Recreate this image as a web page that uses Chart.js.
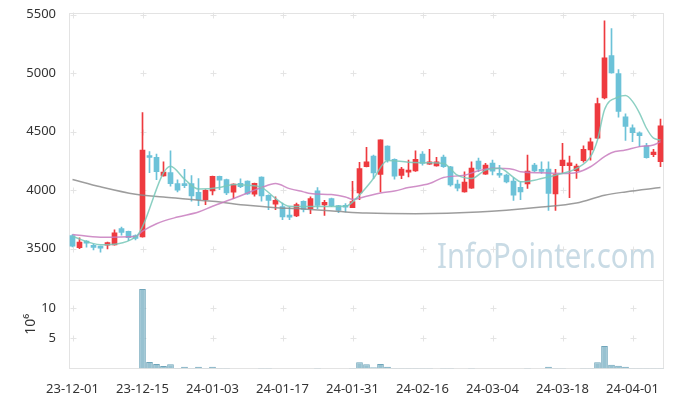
<!DOCTYPE html>
<html>
<head>
<meta charset="utf-8">
<script src="https://cdn.jsdelivr.net/npm/chart.js@4.4.1/dist/chart.umd.min.js"></script>
<style>
  html, body { margin: 0; padding: 0; background: #fff; }
  #wrap { width: 673px; height: 398px; }
</style>
</head>
<body>
<div id="wrap"><canvas id="stockChart"></canvas></div>
<script>
// trading days
var dates = [
  "23-12-01","23-12-04","23-12-05","23-12-06","23-12-07","23-12-08","23-12-11","23-12-12","23-12-13","23-12-14",
  "23-12-15","23-12-18","23-12-19","23-12-20","23-12-21","23-12-22","23-12-26","23-12-27","23-12-28","24-01-02",
  "24-01-03","24-01-04","24-01-05","24-01-08","24-01-09","24-01-10","24-01-11","24-01-12","24-01-15","24-01-16",
  "24-01-17","24-01-18","24-01-19","24-01-22","24-01-23","24-01-24","24-01-25","24-01-26","24-01-29","24-01-30",
  "24-01-31","24-02-01","24-02-02","24-02-05","24-02-06","24-02-07","24-02-08","24-02-13","24-02-14","24-02-15",
  "24-02-16","24-02-19","24-02-20","24-02-21","24-02-22","24-02-23","24-02-26","24-02-27","24-02-28","24-02-29",
  "24-03-04","24-03-05","24-03-06","24-03-07","24-03-08","24-03-11","24-03-12","24-03-13","24-03-14","24-03-15",
  "24-03-18","24-03-19","24-03-20","24-03-21","24-03-22","24-03-25","24-03-26","24-03-27","24-03-28","24-03-29",
  "24-04-01","24-04-02","24-04-03","24-04-04","24-04-05"
];

var open = [
  3613,3510,3555,3527,3520,3530,3533,3673,3648,3613,
  3600,4285,4281,4123,4152,4057,4045,4057,3983,3920,
  3994,4120,4092,3983,4060,4078,3966,4112,3957,3880,
  3860,3775,3780,3906,3843,3994,3874,3929,3868,3862,
  3851,3977,4201,4293,4135,4378,4264,4126,4155,4166,
  4310,4224,4209,4284,4201,4052,3986,4017,4250,4138,
  4232,4132,4129,4078,4026,4055,4215,4168,4181,3969,
  4210,4210,4167,4253,4344,4445,4789,5152,4998,4628,
  4533,4490,4379,4304,4244
];
var high = [
  3620,3593,3570,3540,3522,3556,3662,3685,3650,3618,
  4665,4330,4310,4244,4338,4090,4178,4126,4100,4005,
  4122,4122,4095,4055,4098,4080,4062,4115,3960,3943,
  3891,3857,3891,3910,3943,4023,3914,3932,3870,3885,
  4077,4238,4367,4301,4432,4380,4268,4195,4258,4338,
  4330,4350,4281,4301,4205,4086,4158,4244,4275,4230,
  4258,4212,4138,4109,4072,4301,4230,4244,4244,4178,
  4402,4293,4224,4379,4445,4789,5448,5382,5032,4654,
  4559,4499,4402,4350,4608
];
var low = [
  3515,3500,3513,3490,3470,3499,3530,3615,3570,3575,
  3598,4150,4090,4120,4035,3985,4023,3906,3868,3877,
  3960,4006,3963,3929,4023,3965,3949,3906,3834,3834,
  3748,3748,3775,3814,3800,3843,3785,3860,3808,3814,
  3850,3920,4200,4100,3986,4240,4095,4100,4115,4160,
  4215,4220,4205,4195,4035,3994,3983,4015,4158,4135,
  4130,4109,4063,3914,3920,4015,4158,4144,3828,3828,
  4144,3937,4101,4240,4258,4440,4780,5000,4625,4425,
  4416,4373,4275,4287,4201
];
var close = [
  3522,3556,3548,3512,3505,3553,3636,3640,3595,3588,
  4344,4280,4158,4155,4057,4000,4040,3951,3920,4000,
  4120,4086,3977,4052,4030,3969,4060,3951,3914,3914,
  3771,3770,3877,3837,3929,3871,3897,3868,3828,3855,
  3903,4186,4244,4149,4430,4258,4120,4181,4172,4264,
  4229,4244,4244,4201,4046,4017,4069,4189,4181,4215,
  4164,4128,4072,3957,3986,4164,4166,4162,3972,4135,
  4258,4235,4207,4350,4413,4740,5132,5003,4674,4545,
  4493,4467,4278,4327,4551
];

// volume in millions
var volume = [
  null,null,null,null,null,null,null,null,null,null,
  13.1,1.07,0.75,0.43,0.72,0.1,0.27,0.1,0.27,0.1,
  0.27,0.1,0.1,null,null,null,null,0.08,0.08,null,
  null,null,null,null,null,0.08,null,null,null,null,
  0.08,1.05,0.72,0.22,0.75,0.27,0.08,0.08,0.08,0.08,
  0.08,0.08,null,0.08,0.08,null,null,0.08,null,null,
  null,null,null,null,null,0.08,null,null,0.27,0.08,
  0.08,null,null,0.08,0.08,1.05,3.7,0.6,0.45,0.27,
  0.08,0.08,0.08,0.08,0.08
];

var ma5Pts = {0:3604,4:3535,9:3600,14:4206,16:4095,18:4010,21:4023,23:4050,25:4043,27:4025,29:3930,31:3863,
  34:3860,39:3863,41:3960,43:4100,45:4255,48:4240,51:4235,53:4229,55:4129,57:4100,59:4172,61:4187,
  63:4110,64:4072,66:4086,67:4101,69:4129,72:4187,74:4287,75:4430,76:4688,78:4797,79:4809,80:4760,
  81:4660,82:4530,83:4445,84:4430};
var ma20Pts = {0:3622,4:3599,9:3605,10:3650,12:3714,15:3771,18:3814,20:3863,23:3929,25:3977,27:4023,29:4057,
  31:4014,33:3986,34:3972,37:3963,39:3943,40:3923,42:3949,44:3977,46:3994,48:4023,51:4057,53:4109,
  56:4129,58:4166,60:4187,63:4178,64:4158,67:4149,70:4144,72:4152,74:4201,76:4287,77:4321,79:4344,
  81:4373,83:4387,84:4416};
var ma60Pts = {0:4092,4:4029,9:3966,13:3943,18:3914,20:3906,25:3871,29:3851,32:3843,39:3814,42:3805,
  49:3800,58:3814,67:3857,72:3891,76:3957,79:3986,84:4023};

var priceTicks = [3500, 4000, 4500, 5000, 5500];
var volTicks = [5, 10];

var RED = '#ee3a3f';
var BLUE = '#6cc2d8';

function toSeries(pts) {
    var arr = [];
    for (var i = 0; i < dates.length; i++) {
        arr.push(pts[i] !== undefined ? pts[i] : null);
    }
    return arr;
}

var candleColors = [];
var bodies = [];
var wicks = [];
for (var i = 0; i < dates.length; i++) {
    candleColors.push(close[i] >= open[i] ? RED : BLUE);
    bodies.push([open[i], close[i]]);
    wicks.push([low[i], high[i]]);
}

let decorPlugin = {
    id: 'decor',
    beforeDatasetsDraw: function(chart) {
        var ctx = chart.ctx;
        var x = chart.scales.x, y = chart.scales.y, v = chart.scales.v;
        ctx.save();

        // watermark
        ctx.font = '34px "Noto Sans"';
        ctx.fillStyle = '#c9dbe5';
        ctx.textBaseline = 'alphabetic';
        var txt = 'InfoPointer.com';
        var w = ctx.measureText(txt).width;
        ctx.translate(437, 268);
        ctx.scale(219 / w, 1);
        ctx.fillText(txt, 0, 0);
        ctx.setTransform(1, 0, 0, 1, 0, 0);

        // little crosses instead of grid lines
        ctx.strokeStyle = '#e4e4e4';
        ctx.lineWidth = 1;
        for (var i = 0; i <= 80; i += 10) {
            var px = Math.round(x.getPixelForValue(i)) + 0.5;
            var ys = [];
            priceTicks.forEach(function(t) { ys.push(y.getPixelForValue(t)); });
            volTicks.forEach(function(t) { ys.push(v.getPixelForValue(t)); });
            ys.forEach(function(py) {
                py = Math.round(py) + 0.5;
                ctx.beginPath();
                ctx.moveTo(px - 3, py); ctx.lineTo(px + 3, py);
                ctx.moveTo(px, py - 3); ctx.lineTo(px, py + 3);
                ctx.stroke();
            });
        }

        // panel borders
        ctx.strokeStyle = '#e3e3e3';
        var l = Math.round(x.left) + 0.5, r = Math.round(x.right) - 0.5;
        ctx.strokeRect(l, Math.round(y.top) + 0.5, r - l, Math.round(y.bottom) - Math.round(y.top));
        ctx.strokeRect(l, Math.round(v.top) + 0.5, r - l, Math.round(v.bottom) - Math.round(v.top) - 1);
        ctx.restore();
    }
};

var ctx = document.getElementById('stockChart').getContext('2d');
var stockChart = new Chart(ctx, {
    type: 'bar',
    data: {
        labels: dates,
        datasets: [
            {
                type: 'line', label: 'MA5', data: toSeries(ma5Pts), yAxisID: 'y',
                borderColor: 'rgba(120,200,185,0.85)', borderWidth: 1.5, pointRadius: 0,
                spanGaps: true, cubicInterpolationMode: 'monotone', order: 0
            },
            {
                type: 'line', label: 'MA20', data: toSeries(ma20Pts), yAxisID: 'y',
                borderColor: 'rgba(200,125,190,0.85)', borderWidth: 1.5, pointRadius: 0,
                spanGaps: true, cubicInterpolationMode: 'monotone', order: 0
            },
            {
                type: 'line', label: 'MA60', data: toSeries(ma60Pts), yAxisID: 'y',
                borderColor: 'rgba(140,140,140,0.85)', borderWidth: 1.5, pointRadius: 0,
                spanGaps: true, cubicInterpolationMode: 'monotone', order: 0
            },
            {
                label: 'wick', data: wicks, yAxisID: 'y', backgroundColor: candleColors,
                barThickness: 1, grouped: false, order: 2
            },
            {
                label: 'body', data: bodies, yAxisID: 'y', backgroundColor: candleColors,
                barThickness: 5, grouped: false, minBarLength: 2, order: 1
            },
            {
                label: 'volume', data: volume, yAxisID: 'v',
                backgroundColor: '#98c2d1', borderColor: '#6fa5ba', borderWidth: 1,
                barPercentage: 0.95, categoryPercentage: 1, grouped: false, order: 3
            }
        ]
    },
    options: {
        responsive: true,
        maintainAspectRatio: false,
        animation: false,
        layout: { padding: { top: 12, right: 9, left: 0, bottom: 0 } },
        plugins: { legend: { display: false }, tooltip: { enabled: false } },
        scales: {
            x: {
                offset: true,
                grid: { display: false },
                border: { display: false },
                ticks: {
                    autoSkip: false, maxRotation: 0, padding: 5,
                    color: '#333', font: { family: 'Noto Sans', size: 13 },
                    callback: function(val, idx) { return idx % 10 === 0 ? dates[idx] : null; }
                },
                afterFit: function(s) { s.height = 29.5; }
            },
            y: {
                position: 'left', stack: 'main', stackWeight: 268, weight: 1,
                min: 3231, max: 5517,
                grid: { display: false },
                border: { display: false },
                afterBuildTicks: function(s) { s.ticks = priceTicks.map(function(t) { return { value: t }; }); },
                ticks: {
                    padding: 5, color: '#333', font: { family: 'Noto Sans', size: 13 },
                    callback: function(val) { return String(val); }
                },
                afterFit: function(s) { s.width = 69; }
            },
            v: {
                position: 'left', stack: 'main', stackWeight: 88.5, weight: 0,
                min: 0, max: 14.55,
                grid: { display: false },
                border: { display: false },
                title: {
                    display: true, text: '10⁶', color: '#333',
                    font: { family: 'Noto Sans', size: 14 }, padding: { top: 23, bottom: 0 }
                },
                afterBuildTicks: function(s) { s.ticks = volTicks.map(function(t) { return { value: t }; }); },
                ticks: {
                    padding: 5, color: '#333', font: { family: 'Noto Sans', size: 13 },
                    callback: function(val) { return String(val); }
                },
                afterFit: function(s) { s.width = 69; }
            }
        }
    },
    plugins: [decorPlugin]
});
</script>
</body>
</html>
